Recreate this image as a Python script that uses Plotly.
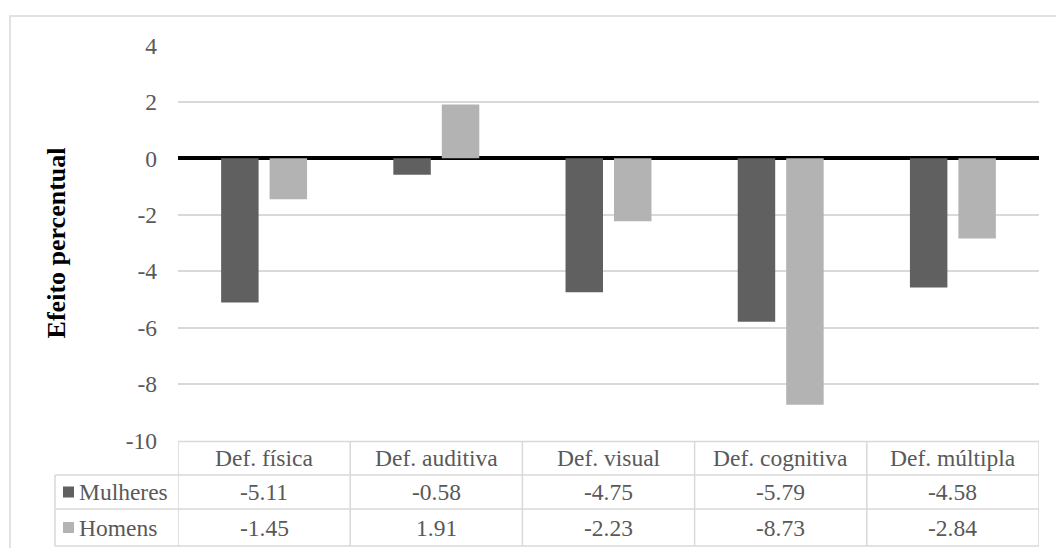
import plotly.graph_objects as go

categories = ["Def. física", "Def. auditiva", "Def. visual", "Def. cognitiva", "Def. múltipla"]
series_names = ["Mulheres", "Homens"]
mulheres = [-5.11, -0.58, -4.75, -5.79, -4.58]
homens = [-1.45, 1.91, -2.23, -8.73, -2.84]
y_ticks = [4, 2, 0, -2, -4, -6, -8, -10]
y_title = "Efeito percentual"

W, H = 1056, 548
colors = ["#606060", "#b3b3b3"]
grid = "#d9d9d9"
txt = "#595959"
FONT = "Liberation Serif"
FS = 23.5

def px(x):
    return x / W

def py(y):
    return 1 - y / H

plot_left, plot_right = 178, 1039
plot_top, plot_bot = 45.4, 440.5
row_y = [441.5, 475, 509, 546]
label_left = 55

fig = go.Figure()
for name, vals, c in zip(series_names, [mulheres, homens], colors):
    fig.add_trace(go.Bar(x=list(range(len(categories))), y=vals, name=name,
                         marker=dict(color=c, line=dict(width=0))))

shapes = []
annotations = []
lc = dict(color=grid, width=1.5)
shapes.append(dict(type="line", xref="paper", yref="paper", x0=px(plot_left), x1=px(plot_right),
                   y0=py(row_y[0]), y1=py(row_y[0]), line=lc))
for yy in row_y[1:]:
    shapes.append(dict(type="line", xref="paper", yref="paper", x0=px(label_left), x1=px(plot_right),
                       y0=py(yy), y1=py(yy), line=lc))
shapes.append(dict(type="line", xref="paper", yref="paper", x0=px(label_left), x1=px(label_left),
                   y0=py(row_y[1]), y1=py(row_y[3]), line=lc))
for i in range(len(categories) + 1):
    shapes.append(dict(type="line", xref="x", yref="paper", x0=i - 0.5, x1=i - 0.5,
                       y0=py(row_y[0]), y1=py(row_y[3]), line=lc))
shapes.append(dict(type="rect", xref="paper", yref="paper", x0=px(10), x1=1.05,
                   y0=-0.05, y1=py(16), line=dict(color=grid, width=1.5), layer="below"))

tf = dict(family=FONT, size=FS, color=txt)
for i, cat in enumerate(categories):
    annotations.append(dict(x=i, y=py((row_y[0] + row_y[1]) / 2), xref="x", yref="paper",
                            xanchor="center", yanchor="middle",
                            text=cat, showarrow=False, font=tf))
for r, (name, vals, c) in enumerate(zip(series_names, [mulheres, homens], colors)):
    yc = (row_y[r + 1] + row_y[r + 2]) / 2
    shapes.append(dict(type="rect", xref="paper", yref="paper", x0=px(63), x1=px(74),
                       y0=py(yc + 5.5), y1=py(yc - 5.5), fillcolor=c, line=dict(width=0)))
    annotations.append(dict(x=px(77), y=py(yc), xref="paper", yref="paper",
                            xanchor="left", yanchor="middle",
                            text=name, showarrow=False, font=tf))
    for i, v in enumerate(vals):
        annotations.append(dict(x=i, y=py(yc), xref="x", yref="paper",
                                xanchor="center", yanchor="middle",
                                text=f"{v:.2f}", showarrow=False, font=tf))

fig.update_layout(
    width=W, height=H, autosize=False,
    margin=dict(l=0, r=0, t=0, b=0, pad=0, autoexpand=False),
    paper_bgcolor="white", plot_bgcolor="white",
    showlegend=False,
    barmode="group", bargap=0.437, bargroupgap=0.227,
    font=tf,
    xaxis=dict(domain=[px(plot_left), px(plot_right)], range=[-0.5, len(categories) - 0.5],
               showticklabels=False, showgrid=False, zeroline=False, showline=False, ticks="",
               automargin=False),
    yaxis=dict(domain=[py(plot_bot), py(plot_top)], range=[-10, 4], tickvals=y_ticks,
               ticktext=[str(t) for t in y_ticks], automargin=False,
               showgrid=True, gridcolor=grid, gridwidth=1.5,
               zeroline=True, zerolinecolor="black", zerolinewidth=3.5,
               showline=False, ticks="", ticklabelstandoff=20,
               tickfont=tf,
               title=dict(text=f"<b>{y_title}</b>", standoff=52,
                          font=dict(family=FONT, size=26, color="black"))),
    shapes=shapes, annotations=annotations,
)

fig.write_html("out.html", config={"displayModeBar": False},
               post_script="document.body.style.margin='0';")
